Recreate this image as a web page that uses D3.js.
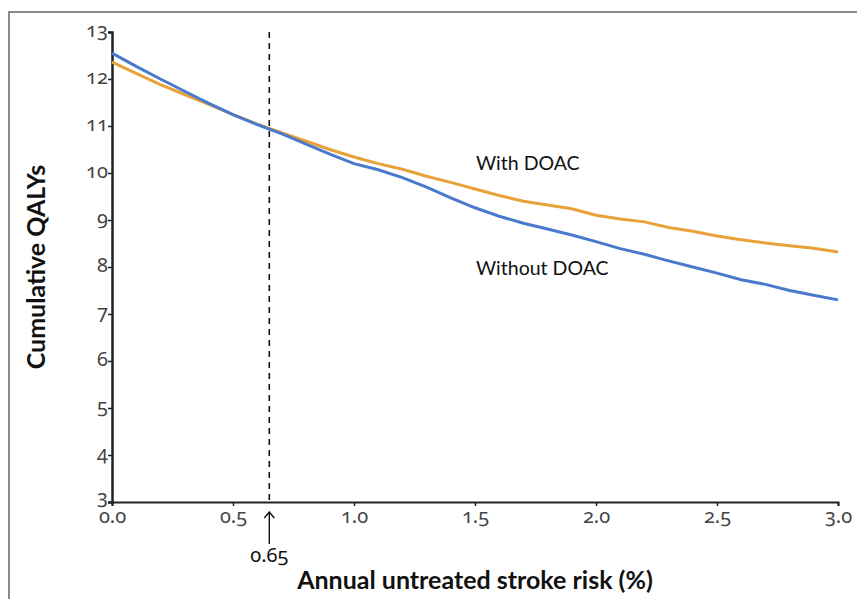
<!DOCTYPE html>
<html>
<head>
<meta charset="utf-8">
<script src="https://cdn.jsdelivr.net/npm/d3@7"></script>
<style>
  body { margin: 0; background: #fff; }
  .tick text { font-family: "Noto Sans", sans-serif; font-variant-numeric: oldstyle-nums; }
</style>
</head>
<body>
<svg id="chart" width="857" height="599"></svg>
<script>
// stroke risk (%) in steps of 0.1
let risk = d3.range(31).map(i => +(i / 10).toFixed(1));

let withDoac = [12.36, 12.12, 11.88, 11.67, 11.46, 11.24, 11.04, 10.86, 10.68, 10.50,
    10.34, 10.20, 10.08, 9.93, 9.80, 9.66, 9.52, 9.40, 9.32, 9.24,
    9.10, 9.02, 8.96, 8.84, 8.76, 8.66, 8.58, 8.51, 8.45, 8.40, 8.32];

let withoutDoac = [12.55, 12.27, 12.00, 11.74, 11.48, 11.24, 11.03, 10.84, 10.62, 10.40,
    10.20, 10.07, 9.90, 9.70, 9.47, 9.26, 9.08, 8.93, 8.81, 8.68,
    8.54, 8.39, 8.27, 8.13, 8.00, 7.87, 7.73, 7.63, 7.50, 7.40, 7.30];

let xTicks = [0, 0.5, 1, 1.5, 2, 2.5, 3];
let yTicks = [3, 4, 5, 6, 7, 8, 9, 10, 11, 12, 13];
let threshold = 0.65;

let svg = d3.select('#chart');
let margin = { left: 112, right: 19, top: 32, bottom: 97 };
let width = +svg.attr('width');
let height = +svg.attr('height');

// Frame (top and left only are visible).
svg.append('path')
    .attr('d', 'M9,599 L9,12 L857,12')
    .attr('fill', 'none')
    .attr('stroke', '#8a8a8a')
    .attr('stroke-width', 2);

// Setup scales.
let xScale = d3.scaleLinear()
    .domain([0, 3])
    .range([margin.left, width - margin.right]);

let yScale = d3.scaleLinear()
    .domain([3, 13])
    .range([height - margin.bottom, margin.top]);

// Axes.
let xAxis = svg.append('g')
    .attr('transform', 'translate(0,' + yScale(3) + ')')
    .call(d3.axisBottom(xScale).tickValues(xTicks).tickFormat(d3.format('.1f')).tickSize(4).tickSizeOuter(4));
xAxis.select('.domain').attr('stroke', '#222').attr('stroke-width', 2);
xAxis.selectAll('.tick line').attr('stroke', '#222').attr('stroke-width', 1.5);
xAxis.selectAll('.tick text')
    .attr('y', 7)
    .style('font-size', '20px')
    .style('fill', '#444');

let yAxis = svg.append('g')
    .attr('transform', 'translate(' + xScale(0) + ',0)')
    .call(d3.axisLeft(yScale).tickValues(yTicks).tickFormat(d3.format('d')).tickSize(4).tickSizeOuter(4));
yAxis.select('.domain').attr('stroke', '#222').attr('stroke-width', 2.5);
yAxis.selectAll('.tick line').attr('stroke', '#222').attr('stroke-width', 1.5);
yAxis.selectAll('.tick text')
    .attr('x', -4)
    .attr('dy', d => d === 3 ? '0.05em' : '0.2em')
    .style('font-size', '20px')
    .style('fill', '#444');

// Threshold line.
svg.append('line')
    .attr('x1', xScale(threshold))
    .attr('x2', xScale(threshold))
    .attr('y1', yScale(13))
    .attr('y2', yScale(3))
    .attr('stroke', '#111')
    .attr('stroke-width', 1.6)
    .style('stroke-dasharray', '6,5');

// Lines.
let line = d3.line()
    .x((d, i) => xScale(risk[i]))
    .y(d => yScale(d));

svg.append('path')
    .datum(withDoac)
    .attr('d', line)
    .attr('fill', 'none')
    .attr('stroke', '#e9a13a')
    .attr('stroke-width', 3);

svg.append('path')
    .datum(withoutDoac)
    .attr('d', line)
    .attr('fill', 'none')
    .attr('stroke', '#4a7acb')
    .attr('stroke-width', 3);

// Series labels.
svg.append('text')
    .attr('x', 476)
    .attr('y', 170)
    .style('font-family', 'Lato, sans-serif')
    .style('font-size', '19.5px')
    .style('fill', '#111')
    .text('With DOAC');

svg.append('text')
    .attr('x', 476)
    .attr('y', 275)
    .style('font-family', 'Lato, sans-serif')
    .style('font-size', '19.5px')
    .style('fill', '#111')
    .text('Without DOAC');

// Arrow and 0.65 label.
svg.append('defs').append('marker')
    .attr('id', 'arrow')
    .attr('viewBox', '0 0 10 12')
    .attr('refX', 9).attr('refY', 6)
    .attr('markerWidth', 10).attr('markerHeight', 12)
    .attr('markerUnits', 'userSpaceOnUse')
    .attr('orient', 'auto')
    .append('path')
    .attr('d', 'M3,1 L9,6 L3,11')
    .attr('fill', 'none')
    .attr('stroke', '#111')
    .attr('stroke-width', 1.4);

svg.append('line')
    .attr('x1', xScale(threshold))
    .attr('x2', xScale(threshold))
    .attr('y1', yScale(3) + 42)
    .attr('y2', yScale(3) + 10)
    .attr('stroke', '#111')
    .attr('stroke-width', 1.4)
    .attr('marker-end', 'url(#arrow)');

svg.append('text')
    .attr('x', xScale(threshold))
    .attr('y', yScale(3) + 60)
    .style('text-anchor', 'middle')
    .style('font-family', '"Noto Sans", sans-serif')
    .style('font-variant-numeric', 'oldstyle-nums')
    .style('font-size', '20px')
    .style('fill', '#111')
    .text('0.65');

// Axis titles.
svg.append('text')
    .attr('x', 475)
    .attr('y', 589)
    .style('text-anchor', 'middle')
    .style('font-family', 'Lato, sans-serif')
    .style('font-weight', 'bold')
    .style('font-size', '25px')
    .style('fill', '#111')
    .text('Annual untreated stroke risk (%)');

svg.append('text')
    .attr('transform', 'translate(45,267) rotate(-90)')
    .style('text-anchor', 'middle')
    .style('font-family', 'Lato, sans-serif')
    .style('font-weight', 'bold')
    .style('font-size', '25px')
    .style('fill', '#111')
    .text('Cumulative QALYs');
</script>
</body>
</html>
